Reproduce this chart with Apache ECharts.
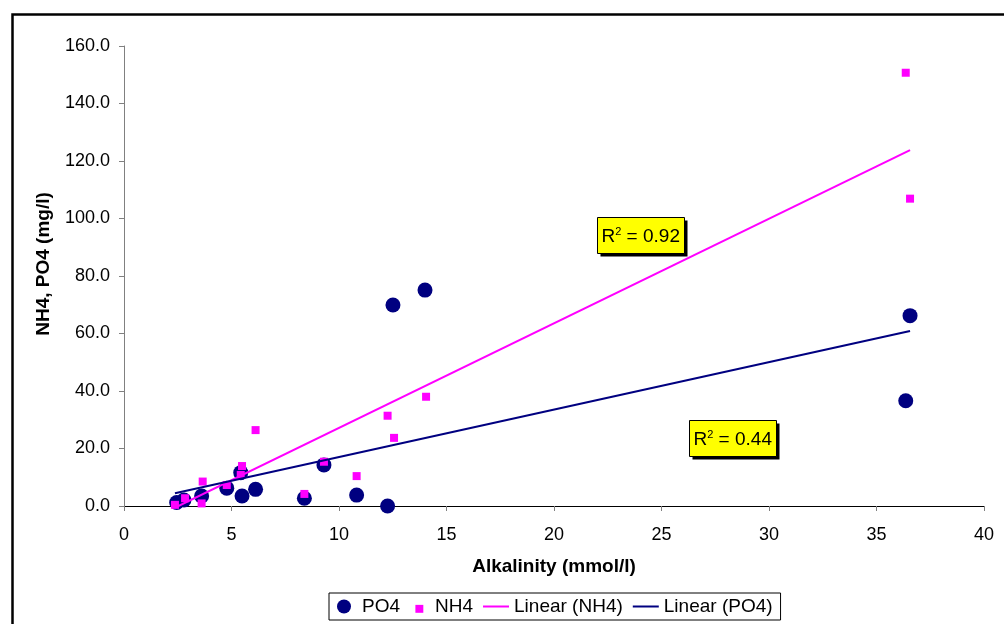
<!DOCTYPE html>
<html>
<head>
<meta charset="utf-8">
<script src="https://cdn.jsdelivr.net/npm/echarts@6/dist/echarts.min.js"></script>
<style>
  html, body { margin: 0; padding: 0; background: #fff; }
  #chart { width: 1004px; height: 624px; }
</style>
</head>
<body>
<div id="chart"></div>
<script>
// PO4 samples: alkalinity (mmol/l) and concentration (mg/l)
var po4Alk = [2.45, 2.79, 3.61, 4.78, 5.43, 5.49, 6.12, 8.39, 9.30, 10.82, 12.26, 12.51, 14.00, 36.56, 36.36];
var po4Val = [1.2, 2.1, 3.5, 6.2, 11.6, 3.5, 5.8, 2.7, 14.3, 3.8, 0.0, 69.9, 75.1, 66.2, 36.6];

// NH4 samples
var nh4Alk = [2.37, 2.84, 3.66, 3.61, 4.78, 5.49, 5.43, 6.12, 8.39, 9.30, 10.82, 12.26, 12.56, 14.05, 36.36, 36.56];
var nh4Val = [0.4, 2.7, 8.5, 0.9, 7.3, 13.9, 10.8, 26.4, 4.2, 15.4, 10.4, 31.4, 23.7, 38.0, 150.7, 106.9];

// trend line end points
var nh4TrendX = [2.37, 36.56];
var nh4TrendY = [-0.6, 123.8];
var po4TrendX = [2.37, 36.56];
var po4TrendY = [4.4, 60.9];

var r2Labels = ['0.92', '0.44'];

function pairs(xs, ys) {
    var out = [];
    for (var i = 0; i < xs.length; i++) {
        out.push([xs[i], ys[i]]);
    }
    return out;
}

var font = 'Liberation Sans, Arial, sans-serif';

// R² text box with shadow
function r2Box(x, y, txt) {
    return {
        type: 'group',
        left: x,
        top: y,
        children: [
            { type: 'rect', shape: { x: 3, y: 3, width: 87, height: 36 }, style: { fill: '#000' } },
            { type: 'rect', shape: { x: 0, y: 0, width: 87, height: 36 }, style: { fill: '#ffff00', stroke: '#000', lineWidth: 1 } },
            {
                type: 'text',
                x: 4, y: 19,
                style: {
                    text: 'R{sup|2} = ' + txt,
                    fill: '#000',
                    font: '19px ' + font,
                    verticalAlign: 'middle',
                    rich: { sup: { fontSize: 11, fontFamily: font, verticalAlign: 'top', padding: [0, 0, 9, 0] } }
                }
            }
        ]
    };
}

var myChart = echarts.init(document.getElementById('chart'));

var option = {
    animation: false,
    backgroundColor: '#fff',
    grid: { left: 124, right: 20, top: 46, bottom: 118 },
    xAxis: {
        type: 'value',
        min: 0, max: 40, interval: 5,
        name: 'Alkalinity (mmol/l)',
        nameLocation: 'middle',
        nameGap: 51,
        nameTextStyle: { fontFamily: font, fontSize: 19, fontWeight: 'bold', color: '#000' },
        axisLine: { onZero: false, lineStyle: { color: '#000', width: 1 } },
        axisTick: { show: true, length: 5, lineStyle: { color: '#808080' } },
        axisLabel: { fontFamily: font, fontSize: 18, color: '#000', margin: 20 },
        splitLine: { show: false }
    },
    yAxis: {
        type: 'value',
        min: 0, max: 160, interval: 20,
        name: 'NH4, PO4 (mg/l)',
        nameLocation: 'middle',
        nameGap: 71,
        nameTextStyle: { fontFamily: font, fontSize: 19, fontWeight: 'bold', color: '#000', padding: [0, 0, 0, 24] },
        axisLine: { show: true, lineStyle: { color: '#808080', width: 1 } },
        axisTick: { show: true, length: 5, lineStyle: { color: '#808080' } },
        axisLabel: {
            fontFamily: font, fontSize: 18, color: '#000', margin: 14,
            formatter: function (v) { return v.toFixed(1); }
        },
        splitLine: { show: false }
    },
    legend: {
        left: 329,
        top: 593,
        padding: [4, 8, 4, 8],
        borderColor: '#000',
        borderWidth: 1,
        itemGap: 10,
        itemWidth: 26,
        itemHeight: 14,
        textStyle: { fontFamily: font, fontSize: 19, color: '#000' },
        data: [
            { name: 'PO4', icon: 'circle' },
            { name: 'NH4', icon: 'path://M-1,-1M2,2M0.15,0.15h1.7v1.7h-1.7z' },
            { name: 'Linear (NH4)', icon: 'path://M0,0M26,14M0,6h26v2h-26z' },
            { name: 'Linear (PO4)', icon: 'path://M0,0M26,14M0,6h26v2h-26z' }
        ]
    },
    series: [
        {
            name: 'PO4',
            type: 'scatter',
            symbol: 'circle',
            symbolSize: 15,
            itemStyle: { color: '#000080', opacity: 1 },
            data: pairs(po4Alk, po4Val),
            z: 2
        },
        {
            name: 'NH4',
            type: 'scatter',
            symbol: 'rect',
            symbolSize: 8,
            itemStyle: { color: '#ff00ff', opacity: 1 },
            data: pairs(nh4Alk, nh4Val),
            z: 3
        },
        {
            name: 'Linear (NH4)',
            type: 'line',
            symbol: 'none',
            lineStyle: { color: '#ff00ff', width: 2 },
            itemStyle: { color: '#ff00ff' },
            data: pairs(nh4TrendX, nh4TrendY),
            z: 4
        },
        {
            name: 'Linear (PO4)',
            type: 'line',
            symbol: 'none',
            lineStyle: { color: '#000080', width: 2 },
            itemStyle: { color: '#000080' },
            data: pairs(po4TrendX, po4TrendY),
            z: 5
        }
    ],
    graphic: [
        {
            type: 'rect',
            left: 10, top: 12,
            shape: { width: 1100, height: 700 },
            style: { fill: 'none', stroke: '#000', lineWidth: 2.5 },
            silent: true
        },
        r2Box(597, 217, r2Labels[0]),
        r2Box(689, 420, r2Labels[1])
    ]
};

myChart.setOption(option);
</script>
</body>
</html>
